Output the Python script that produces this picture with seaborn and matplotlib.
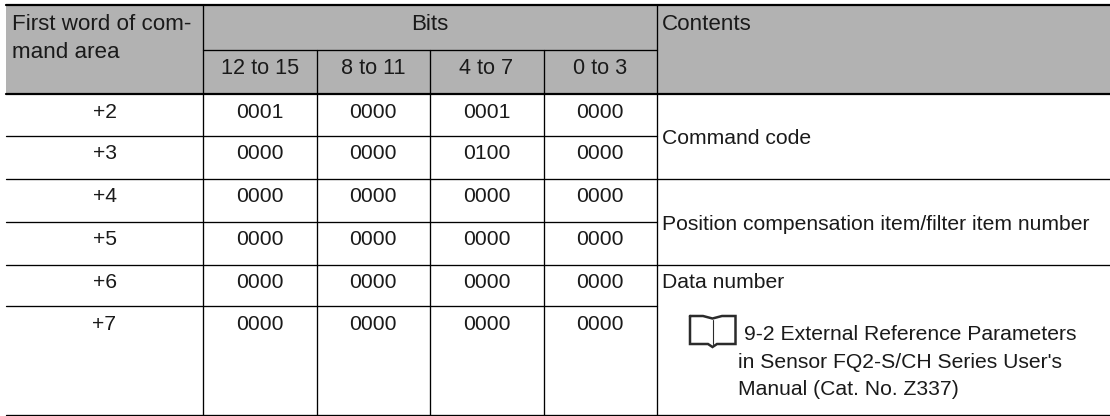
import pandas as pd
import matplotlib.pyplot as plt
import seaborn as sns

# textos da tabela
first_word = ["+2", "+3", "+4", "+5", "+6", "+7"]
bits_12_15 = ["0001", "0000", "0000", "0000", "0000", "0000"]
bits_8_11 = ["0000", "0000", "0000", "0000", "0000", "0000"]
bits_4_7 = ["0001", "0100", "0000", "0000", "0000", "0000"]
bits_0_3 = ["0000", "0000", "0000", "0000", "0000", "0000"]
bit_headers = ["12 to 15", "8 to 11", "4 to 7", "0 to 3"]
manual_ref = ["9-2 External Reference Parameters", "in Sensor FQ2-S/CH Series User's", "Manual (Cat. No. Z337)"]

sns.set_theme(style="white")
plt.rcParams['font.family'] = ['Liberation Sans', 'DejaVu Sans']

fig = plt.figure(figsize=(11.10, 4.16), dpi=100)
ax = fig.add_axes([0, 0, 1, 1])

# layout em pixels
left, right = 6, 1110
top, sub, head, bottom = 5, 49.5, 94, 415
row_y = [94, 135.5, 178.5, 221.5, 264.5, 306, 415]
col_x = [6, 203, 316.5, 429.5, 543.5, 657]

ax.fill_between([left, right], top, head, color="#b2b2b2", lw=0, zorder=0)

# linhas finas
thin = [(col_x[1], sub, col_x[5], sub)]
for y, x1 in [(row_y[1], col_x[5]), (row_y[2], right), (row_y[3], col_x[5]),
              (row_y[4], right), (row_y[5], col_x[5]), (bottom, right)]:
    thin.append((left, y, x1, y))
for x in [col_x[1], col_x[5]]:
    thin.append((x, top, x, bottom))
for x in col_x[2:5]:
    thin.append((x, sub, x, bottom))

rows = []
for i, (x0, y0, x1, y1) in enumerate(thin):
    rows.append({"rule": i, "x": x0, "y": y0})
    rows.append({"rule": i, "x": x1, "y": y1})
df_thin = pd.DataFrame(rows)
sns.lineplot(data=df_thin, x="x", y="y", units="rule", estimator=None, sort=False,
             color="black", lw=0.95, ax=ax, zorder=2)

# linhas grossas do cabeçalho
rows = []
for i, y in enumerate([top, head]):
    rows.append({"rule": i, "x": left, "y": y})
    rows.append({"rule": i, "x": right, "y": y})
df_thick = pd.DataFrame(rows)
sns.lineplot(data=df_thick, x="x", y="y", units="rule", estimator=None, sort=False,
             color="black", lw=1.6, ax=ax, zorder=3)

fs = 15.2
color = "#1a1a1a"

def put(x, y, s, ha="left", size=fs):
    ax.text(x, y, s, ha=ha, va="baseline", fontsize=size, color=color)

put(12, 29.5, "First word of com-", size=16.1)
put(12, 58.5, "mand area", size=16.1)
put((col_x[1] + col_x[5]) / 2, 29.5, "Bits", ha="center", size=16.1)
put(662, 29.5, "Contents", size=16.1)

centers = [(col_x[i] + col_x[i + 1]) / 2 for i in range(5)]
for i, label in enumerate(bit_headers):
    put(centers[i + 1], 73.5, label, ha="center", size=15.6)

columns = [first_word, bits_12_15, bits_8_11, bits_4_7, bits_0_3]
for c, values in zip(centers, columns):
    for i, v in enumerate(values):
        put(c, row_y[i] + 23.5, v, ha="center")

put(662, 144.5, "Command code")
put(662, 230, "Position compensation item/filter item number")
put(662, 287.5, "Data number")

# ícone do livro
book = pd.DataFrame({
    "x": [690, 690, 708, 712.5, 717, 735.5, 735.5, 722, 712.5, 703, 690],
    "y": [316, 344, 344, 347, 344, 344, 316, 316, 318.5, 316, 316],
})
ax.plot(book["x"], book["y"], color="#2b2b2b", lw=1.8, solid_joinstyle="miter", zorder=4)
ax.plot([712.5, 712.5], [320, 344], color="#2b2b2b", lw=0.8, zorder=4)

put(743.5, 340, manual_ref[0])
put(738.5, 368, manual_ref[1])
put(738.5, 395, manual_ref[2])

ax.set_xlim(0, 1110)
ax.set_ylim(416, 0)
ax.set_xlabel("")
ax.set_ylabel("")
ax.axis("off")
fig.savefig("out.png", dpi=100)
